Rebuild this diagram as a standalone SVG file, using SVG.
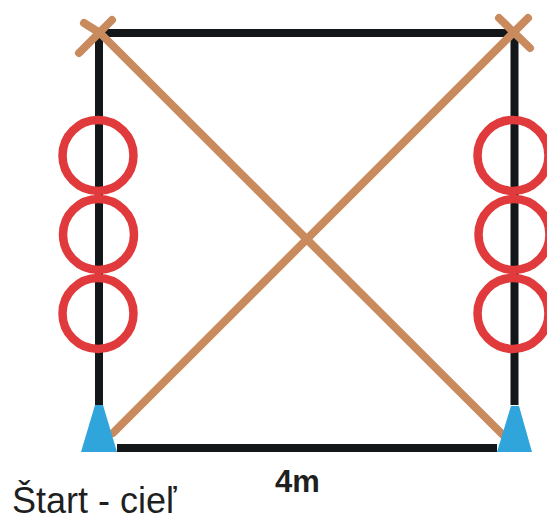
<svg xmlns="http://www.w3.org/2000/svg" width="547" height="516" viewBox="0 0 547 516">
<style>
.track{fill:none;stroke:#14171a;stroke-width:8}
.ring{fill:none;stroke:#e03a3c;stroke-width:8.500}
.tan{fill:none;stroke:#c98b5e;stroke-width:8;stroke-linecap:round;stroke-linejoin:round}
.cone{fill:#2fa5dc}
text{font-family:"Liberation Sans",Arial,sans-serif;fill:#1f1f1f}
</style>
<rect width="547" height="516" fill="#fff"/>
<g id="connectors">
<path class="track" d="M99 33H514.500M99 33V405M514.500 33V405M117 448H497"/>
</g>
<g id="tan-lines">
<path class="tan" d="M84 23L100 33L503 435"/>
<path class="tan" d="M528 18L113 433"/>
<path class="tan" d="M79 53L112 20"/>
<path class="tan" d="M499 18L530 48"/>
</g>
<g id="rings-left">
<circle class="ring" cx="98" cy="155.500" r="35.500"/>
<circle class="ring" cx="98.500" cy="234.500" r="35.500"/>
<circle class="ring" cx="98" cy="313.500" r="35.500"/>
</g>
<g id="rings-right">
<circle class="ring" cx="513" cy="155.500" r="35.500"/>
<circle class="ring" cx="514" cy="234.500" r="35.500"/>
<circle class="ring" cx="513" cy="313.500" r="35.500"/>
</g>
<g id="cone-start"><polygon class="cone" points="95,405 103,405 117,452 81,452"/></g>
<g id="cone-end"><polygon class="cone" points="511,406 519,406 532,452 497,452"/></g>
<g id="label-distance"><text x="275" y="492" font-size="31" font-weight="bold">4m</text></g>
<g id="label-start"><text x="12" y="513" font-size="36">Štart - cieľ</text></g>
</svg>
